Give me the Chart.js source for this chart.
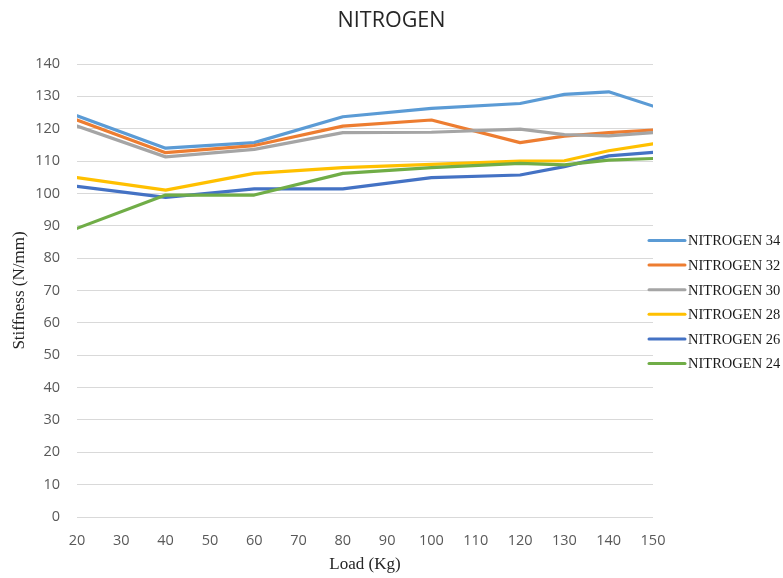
<!DOCTYPE html>
<html>
<head>
<meta charset="utf-8">
<script src="https://cdn.jsdelivr.net/npm/chart.js@4/dist/chart.umd.min.js"></script>
<style>
  html, body { margin: 0; padding: 0; background: #fff; }
  #wrap { width: 783px; height: 578px; }
</style>
</head>
<body>
<div id="wrap"><canvas id="nitro" width="783" height="578"></canvas></div>
<script>
const loads = [20, 40, 60, 80, 100, 120, 130, 140, 150];
const xTicks = [20, 30, 40, 50, 60, 70, 80, 90, 100, 110, 120, 130, 140, 150];
const seriesNames = ['NITROGEN 34', 'NITROGEN 32', 'NITROGEN 30', 'NITROGEN 28', 'NITROGEN 26', 'NITROGEN 24'];
const n34 = [124, 114, 115.7, 123.7, 126.3, 127.8, 130.6, 131.4, 127];
const n32 = [122.7, 112.6, 114.8, 120.8, 122.7, 115.7, 117.7, 118.8, 119.6];
const n30 = [120.8, 111.3, 113.6, 118.8, 118.9, 119.9, 118.2, 117.8, 118.8];
const n28 = [104.9, 101, 106.2, 108, 109, 110, 110.1, 113.2, 115.3];
const n26 = [102.2, 98.8, 101.4, 101.4, 104.9, 105.7, 108.3, 111.6, 112.7];
const n24 = [89.2, 99.5, 99.5, 106.2, 108, 109.3, 108.8, 110.3, 110.8];
const colors = ['#5B9BD5', '#ED7D31', '#A5A5A5', '#FFC000', '#4472C4', '#70AD47'];

const allValues = [n34, n32, n30, n28, n26, n24];
const sansFont = '"Open Sans", "Liberation Sans", sans-serif';
const serifFont = '"Liberation Serif", "DejaVu Serif", serif';

// title centred on the whole canvas + Excel style legend (short line, serif text)
const excelBits = {
  id: 'excelBits',
  afterDraw(chart) {
    const ctx = chart.ctx;
    const area = chart.chartArea;
    ctx.save();
    ctx.font = '21.5px ' + sansFont;
    ctx.fillStyle = '#262626';
    ctx.textAlign = 'center';
    ctx.textBaseline = 'middle';
    ctx.fillText('NITROGEN', chart.width / 2, 21);

    const x0 = area.right - 5;
    const step = 24.6;
    const yStart = (area.top + area.bottom) / 2 + 11.5 - step * 2.5;
    ctx.font = '14.5px ' + serifFont;
    ctx.textAlign = 'left';
    seriesNames.forEach((name, i) => {
      const y = yStart + i * step;
      ctx.strokeStyle = colors[i];
      ctx.lineWidth = 3;
      ctx.lineCap = 'round';
      ctx.beginPath();
      ctx.moveTo(x0 + 1, y);
      ctx.lineTo(x0 + 37, y);
      ctx.stroke();
      ctx.fillStyle = '#1a1a1a';
      ctx.fillText(name, x0 + 40, y + 1);
    });
    ctx.restore();
  }
};

const ctx = document.getElementById('nitro').getContext('2d');
new Chart(ctx, {
  type: 'line',
  data: {
    datasets: seriesNames.map((name, i) => ({
      label: name,
      data: loads.map((x, j) => ({ x: x, y: allValues[i][j] })),
      borderColor: colors[i],
      backgroundColor: colors[i],
      borderWidth: 3.2,
      pointRadius: 0,
      tension: 0,
      borderJoinStyle: 'round',
      borderCapStyle: 'round',
      order: seriesNames.length - i
    }))
  },
  options: {
    responsive: false,
    animation: false,
    layout: { padding: { left: 0, right: 130, top: 64, bottom: 0 } },
    plugins: {
      legend: { display: false },
      tooltip: { enabled: false },
      title: { display: false }
    },
    scales: {
      x: {
        type: 'linear',
        min: 20,
        max: 150,
        afterBuildTicks: (axis) => { axis.ticks = xTicks.map(v => ({ value: v })); },
        afterFit: (axis) => { axis.height = 61; },
        grid: { display: false },
        border: { display: false },
        ticks: { color: '#595959', font: { family: sansFont, size: 14.5 }, padding: 7, maxRotation: 0 },
        title: {
          display: true,
          text: 'Load (Kg)',
          color: '#262626',
          font: { family: serifFont, size: 17 },
          padding: { top: 0, bottom: 3 }
        }
      },
      y: {
        min: 0,
        max: 140,
        afterFit: (axis) => { axis.width = 77; },
        grid: { color: '#d9d9d9', lineWidth: 1, drawTicks: false },
        border: { display: false },
        ticks: { stepSize: 10, color: '#595959', font: { family: sansFont, size: 14.5 }, padding: 17 },
        title: {
          display: true,
          text: 'Stiffness (N/mm)',
          color: '#262626',
          font: { family: serifFont, size: 17 },
          padding: { top: 9, bottom: 0 }
        }
      }
    }
  },
  plugins: [excelBits]
});
</script>
</body>
</html>
